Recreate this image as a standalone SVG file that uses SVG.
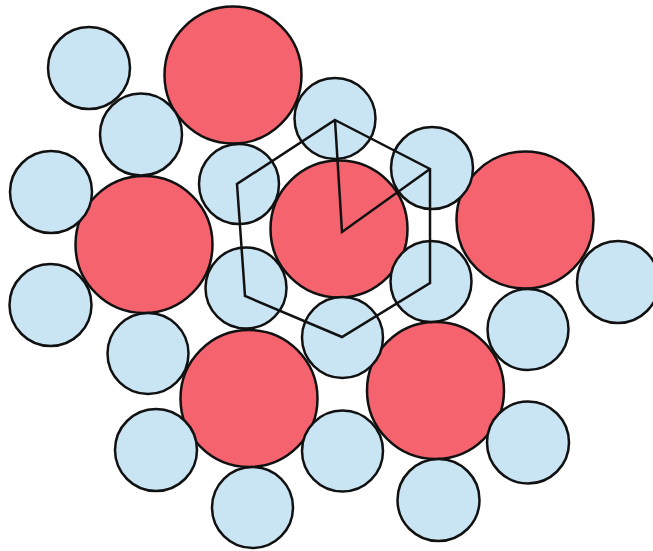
<svg xmlns="http://www.w3.org/2000/svg" width="653" height="551" viewBox="0 0 653 551">
<style>
.r{fill:#F5636F;stroke:#111;stroke-width:2.5}
.b{fill:#C9E4F3;stroke:#111;stroke-width:2.5}
.h{fill:none;stroke:#111;stroke-width:2.5;stroke-linejoin:miter}
</style>
<rect width="653" height="551" fill="#fff"/>
<g id="large">
<circle class="r" cx="233" cy="75" r="68.5"/>
<circle class="r" cx="144" cy="244.5" r="68.5"/>
<circle class="r" cx="339" cy="229" r="68.5"/>
<circle class="r" cx="525" cy="220" r="68.5"/>
<circle class="r" cx="249" cy="398.5" r="68.5"/>
<circle class="r" cx="435.5" cy="390.5" r="68.5"/>
</g>
<g id="small">
<circle class="b" cx="89" cy="68" r="41"/>
<circle class="b" cx="141" cy="134.5" r="41"/>
<circle class="b" cx="335" cy="118.5" r="40.5"/>
<circle class="b" cx="51" cy="192" r="41"/>
<circle class="b" cx="239" cy="184" r="40"/>
<circle class="b" cx="432" cy="168" r="41"/>
<circle class="b" cx="50.5" cy="305" r="41"/>
<circle class="b" cx="246" cy="288" r="40.5"/>
<circle class="b" cx="431" cy="281.5" r="40.5"/>
<circle class="b" cx="618" cy="282" r="41"/>
<circle class="b" cx="148" cy="353.5" r="40.5"/>
<circle class="b" cx="342.5" cy="337.5" r="40.5"/>
<circle class="b" cx="528" cy="329.5" r="40.5"/>
<circle class="b" cx="156" cy="450" r="41"/>
<circle class="b" cx="342.5" cy="451" r="40.5"/>
<circle class="b" cx="528" cy="442.5" r="41"/>
<circle class="b" cx="252.5" cy="507.5" r="40.5"/>
<circle class="b" cx="438.5" cy="500" r="41"/>
</g>
<g id="connectors">
<polygon class="h" points="335,120 430,169 430,283 342,337 245,296 237,184"/>
<polyline class="h" points="335,120 342,232 430,169"/>
</g>
</svg>
